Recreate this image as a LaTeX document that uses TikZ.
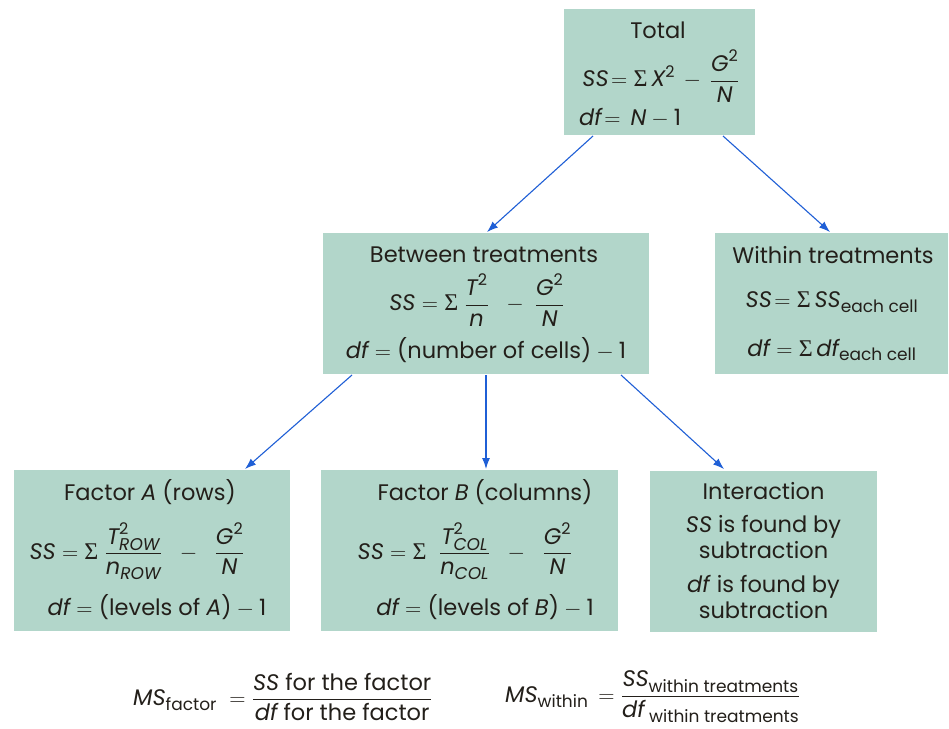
\RequirePackage{fix-cm}
\documentclass[tikz,border=0pt]{standalone}
\usepackage{amsmath}
\usepackage{fontspec}
\setmainfont{Poppins}
\newfontfamily\sigfont{Liberation Serif}
\usetikzlibrary{arrows.meta}
\DeclareMathSizes{22.5}{22.5}{16}{12}
\DeclareMathSizes{17}{17}{12}{9}
\definecolor{boxfill}{HTML}{B2D6CA}
\definecolor{arrowblue}{HTML}{1F5FD6}
\definecolor{txt}{HTML}{231F1A}
\newcommand{\iv}[1]{\text{\itshape #1}}
\newcommand{\rv}[1]{\text{\upshape #1}}
\newcommand{\sm}[1]{\text{\fontsize{17}{19}\selectfont #1}}
\newcommand{\up}[1]{\text{\fontsize{16}{18}\selectfont\upshape #1}}
\newcommand{\smi}[1]{\text{\fontsize{17}{19}\selectfont\itshape #1}}
\newcommand{\Sig}{\mathord{\text{\fontsize{24}{26}\selectfont\sigfont Σ}}}
\tikzset{
  box/.style={fill=boxfill, draw=none, inner sep=0pt, align=center, font=\fontsize{22.5}{26}\selectfont, text=txt},
  conn/.style={draw=arrowblue, line width=1.1pt, -{Latex[length=11pt,width=8pt]}},
  formula/.style={font=\fontsize{22.5}{26}\selectfont, text=txt, inner sep=0pt}
}
\begin{document}
\begin{tikzpicture}[x=1pt,y=-1pt]
\useasboundingbox (0,0) rectangle (949,728);
\fill[white] (0,0) rectangle (949,728);

\node[box, minimum width=191pt, minimum height=126pt] (total) at (659.5,72) {};
\node[formula] (totalt) at (658,30) {Total};
\node[formula] (totalss) at (661,76) {$\iv{SS}\!=\Sig\,\iv{X}^{\up{2}}\,-\,\dfrac{\iv{G}^{\up{2}}}{\iv{N}}$};
\node[formula, anchor=west] (totaldf) at (579,118) {$\iv{df}\!=\,\iv{N}-\rv{1}$};

\node[box, minimum width=326pt, minimum height=141pt] (between) at (486,303.5) {};
\node[formula] (betweent) at (484,255) {Between treatments};
\node[formula] (betweenss) at (477,300) {$\iv{SS}=\Sig\;\dfrac{\iv{T}^{\up{2}}}{\iv{n}}\;\;-\;\dfrac{\iv{G}^{\up{2}}}{\iv{N}}$};
\node[formula] (betweendf) at (486,350) {$\iv{df}=\rv{(number of cells)}-\rv{1}$};

\node[box, minimum width=233pt, minimum height=141pt] (within) at (831.5,303.5) {};
\node[formula] (withint) at (833,255) {Within treatments};
\node[formula] (withinss) at (832,302) {$\iv{SS}\!=\Sig\,\iv{SS}_{\sm{each cell}}$};
\node[formula] (withindf) at (832,350) {$\iv{df}=\Sig\,\iv{df}_{\sm{each cell}}$};

\node[box, minimum width=276pt, minimum height=161pt] (facta) at (152,550.5) {};
\node[formula] (factat) at (150,492) {Factor \textit{A} (rows)};
\node[formula] (factass) at (137,551) {$\iv{SS}=\Sig\;\dfrac{\iv{T}^{\up{2}}_{\smi{ROW}}}{\iv{n}_{\smi{ROW}}}\;\;-\;\;\dfrac{\iv{G}^{\up{2}}}{\iv{N}}$};
\node[formula] (factadf) at (157,607) {$\iv{df}=\rv{(levels of }\iv{A}\rv{)}-\rv{1}$};

\node[box, minimum width=297pt, minimum height=161pt] (factb) at (469.5,550.5) {};
\node[formula] (factbt) at (485,492) {Factor \textit{B} (columns)};
\node[formula] (factbss) at (465,551) {$\iv{SS}=\Sig\;\;\dfrac{\iv{T}^{\up{2}}_{\smi{COL}}}{\iv{n}_{\smi{COL}}}\;\;-\;\;\dfrac{\iv{G}^{\up{2}}}{\iv{N}}$};
\node[formula] (factbdf) at (485,607) {$\iv{df}=\rv{(levels of }\iv{B}\rv{)}-\rv{1}$};

\node[box, minimum width=227pt, minimum height=161pt] (inter) at (763.5,551) {Interaction\\[7pt]\textit{SS} is found by\\subtraction\\[8pt]\textit{df} is found by\\subtraction};

\draw[conn] (593,136) -- (487,232);
\draw[conn] (723,136) -- (830,232);
\draw[conn] (352,375) -- (245,469);
\draw[conn] (486,375) -- (486,469);
\draw[conn] (621,375) -- (724,469);

\node[formula, anchor=west] (msf) at (133,697) {$\iv{MS}_{\sm{factor}}\;=\dfrac{\iv{SS}\rv{ for the factor}}{\iv{df}\rv{ for the factor}}$};
\node[formula, anchor=west] (msw) at (505,697) {$\iv{MS}_{\sm{within}}\,=\dfrac{\iv{SS}_{\sm{within treatments}}}{\iv{df}_{\sm{\ within treatments}}}$};
\end{tikzpicture}
\end{document}
